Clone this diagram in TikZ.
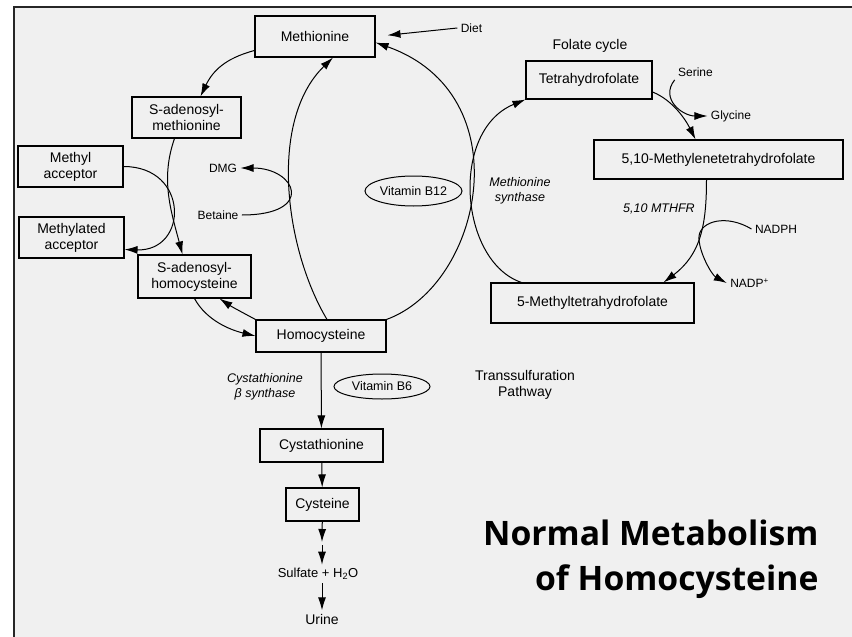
\documentclass[tikz,border=0pt]{standalone}
\usepackage{fontspec}
\setmainfont{Liberation Sans}
\newfontfamily\titlefont{Open Sans}
\usetikzlibrary{arrows.meta,shapes.geometric}

\definecolor{paper}{gray}{0.94}
\tikzset{
  box/.style={draw, line width=1.1pt, font=\fontsize{14}{16}\selectfont, align=center, inner sep=0pt},
  lbl/.style={font=\fontsize{12}{14}\selectfont, align=center, inner sep=3pt},
  big/.style={lbl, font=\fontsize{14}{16}\selectfont},
  enz/.style={lbl, font=\fontsize{12.5}{15}\selectfont\itshape},
  vit/.style={draw, ellipse, line width=1pt, inner sep=0pt, font=\fontsize{12.5}{15}\selectfont},
  ttl/.style={anchor=base east, inner sep=0pt, font=\titlefont\bfseries\fontsize{33.7}{45}\selectfont}
}

\begin{document}
\begin{tikzpicture}[x=1pt,y=-1pt,line width=1pt,>={Latex[length=13pt,width=8pt]}]
\useasboundingbox (0,0) rectangle (852,637);
\fill[white] (0,0) rectangle (852,637);
\fill[paper] (14,7) rectangle (852,637);
\draw[line width=2.5pt, black!85] (14,637) -- (14,7) -- (852,7);

% methionine cycle
\node[box, minimum width=120, minimum height=41] (met) at (315,36.5) {Methionine};
\node[box, minimum width=109, minimum height=41] (sam) at (186.5,117.5) {S-adenosyl-\\methionine};
\node[box, minimum width=105, minimum height=41] (macc) at (70.5,166.5) {Methyl\\acceptor};
\node[box, minimum width=105, minimum height=41] (mdacc) at (71.5,237.5) {Methylated\\acceptor};
\node[box, minimum width=113, minimum height=43] (sah) at (194.5,276.5) {S-adenosyl-\\homocysteine};
\node[box, minimum width=130, minimum height=32] (hcy) at (321,336) {Homocysteine};
\node[lbl] (diet) at (471.5,28) {Diet};
\node[lbl] (dmg) at (223,168) {DMG};
\node[lbl] (betaine) at (218,215) {Betaine};
\node[vit, minimum width=97, minimum height=30] (b12) at (413.5,191) {Vitamin B12};

% folate cycle
\node[big] (folate) at (590,46) {Folate cycle};
\node[box, minimum width=126, minimum height=38] (thf) at (589,80) {Tetrahydrofolate};
\node[box, minimum width=249, minimum height=39] (mthf510) at (718.5,159.5) {5,10-Methylenetetrahydrofolate};
\node[box, minimum width=203, minimum height=40] (mthf5) at (592.5,303) {5-Methyltetrahydrofolate};
\node[lbl] (serine) at (695.5,72) {Serine};
\node[lbl] (glycine) at (731,116) {Glycine};
\node[enz] (msyn) at (520,190.5) {Methionine\\synthase};
\node[enz] (mthfr) at (659,209) {5,10 MTHFR};
\node[lbl] (nadph) at (776,229) {NADPH};
\node[lbl] (nadp) at (749.5,283) {NADP\textsuperscript{+}};

% transsulfuration
\node[big] (trans) at (525,385) {Transsulfuration\\Pathway};
\node[enz] (cbs) at (265,387) {Cystathionine\\β synthase};
\node[vit, minimum width=96, minimum height=25] (b6) at (382,386.5) {Vitamin B6};
\node[box, minimum width=123, minimum height=33] (cysta) at (321.5,445.5) {Cystathionine};
\node[box, minimum width=73, minimum height=33] (cys) at (322.5,504.5) {Cysteine};
\coordinate (c1) at (322,542);
\coordinate (c2) at (322,545);
\node[lbl, font=\fontsize{13}{15}\selectfont] (sulf) at (318,574) {Sulfate + H\textsubscript{2}O};
\node[big] (urine) at (322,619) {Urine};

\node[ttl] (title1) at (819,545) {Normal Metabolism};
\node[ttl] (title2) at (819,590) {of Homocysteine};

\draw[->] ([yshift=-14pt]met.west) .. controls +(-30,8) and +(12,-25) .. ([xshift=14pt]sam.north);
\draw[->] ([xshift=-12pt]sam.south) .. controls +(-14,40) and +(-12,-45) .. ([xshift=-12pt]sah.north);
\draw[->] (macc.east) .. controls +(66,0) and +(64,2) .. ([yshift=-12pt]mdacc.east);
\draw[->] (betaine.east) .. controls +(74,0) and +(56,0) .. (dmg.east);
\draw[->] (sah.south) .. controls +(12,22) and +(-25,-6) .. (hcy.west);
\draw[->] (hcy.north west) .. controls +(-15,-8) and +(12,8) .. ([xshift=25pt]sah.south);
\draw[->] ([xshift=6pt]hcy.north) .. controls +(-42,-70) and +(-65,63) .. ([xshift=18pt]met.south);
\draw[->] (hcy.north east) .. controls +(96,-35) and +(147,52) .. ([yshift=-6pt]met.east);

\draw[->] ([xshift=31pt]mthf5.north west) .. controls +(-62,-21) and +(-76,31) .. (thf.south west);
\draw[->] ([yshift=-12pt]thf.east) .. controls +(20,8) and +(-10,-20) .. ([xshift=-23pt]mthf510.north);
\draw[->] (serine.south west) .. controls +(-15,19) and +(-25,0) .. (glycine.west);
\draw[->] ([xshift=-12pt]mthf510.south) .. controls +(0,46) and +(37,-28) .. ([xshift=-31pt]mthf5.north east);
\draw[->] (nadph.west) .. controls +(-25,-15) and +(2,-15) .. (699,236) .. controls +(-1,15) and +(-15,-8) .. (nadp.west);

\path[->]
(diet.west) edge [shorten >=12pt] (met.east)
(hcy) edge (cysta)
(cysta) edge (cys)
(cys) edge (c1)
(c2) edge (sulf.north -| c2)
(sulf.south -| urine) edge (urine);
\end{tikzpicture}
\end{document}
